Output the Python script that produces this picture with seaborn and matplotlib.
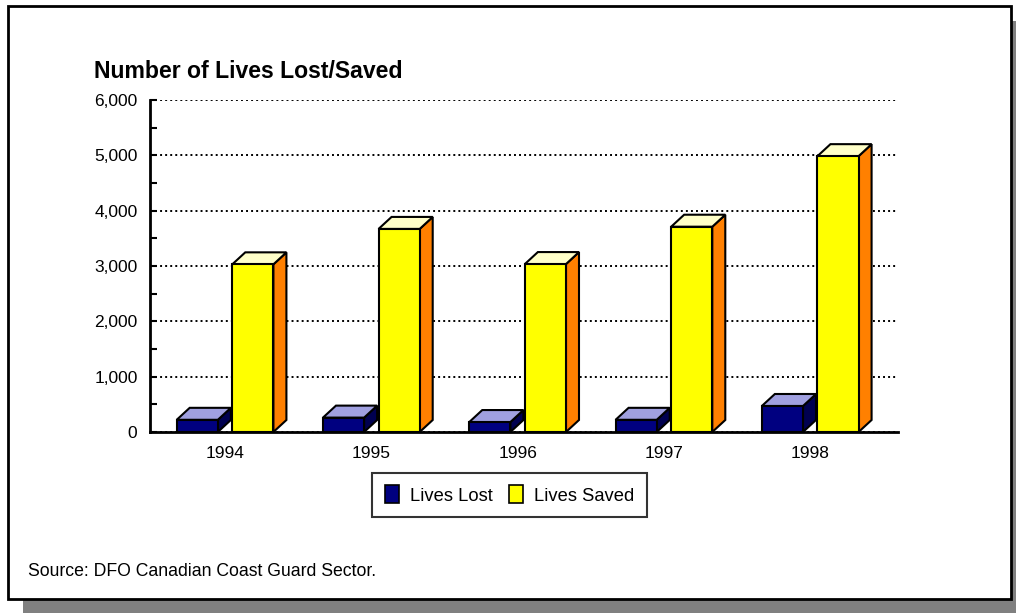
import numpy as np
import pandas as pd
import matplotlib
matplotlib.use("Agg")
import matplotlib.pyplot as plt
from matplotlib.patches import Polygon, Rectangle, Patch
from matplotlib.ticker import FuncFormatter, MultipleLocator
import seaborn as sns

# ---------------- data ----------------
years = ["1994", "1995", "1996", "1997", "1998"]
lives_lost = [220, 260, 180, 220, 470]
lives_saved = [3030, 3670, 3035, 3710, 4985]
series_names = ["Lives Lost", "Lives Saved"]
y_ticks = [0, 1000, 2000, 3000, 4000, 5000, 6000]
title_text = "Number of Lives Lost/Saved"
source_text = "Source: DFO Canadian Coast Guard Sector."

df = pd.DataFrame({
    "Year": years * 2,
    "Value": lives_lost + lives_saved,
    "Series": [series_names[0]] * len(years) + [series_names[1]] * len(years),
})

front_colors = ["#000080", "#FFFF00"]
top_colors = ["#A0A0E0", "#FFFFC8"]
side_colors = ["#000050", "#FF8000"]

sns.set_theme(style="white")
plt.rcParams["font.family"] = ["Liberation Sans", "DejaVu Sans"]

W, H = 1016, 613
fig = plt.figure(figsize=(W / 100, H / 100), dpi=100)
fig.patch.set_facecolor("white")


def fx(px):
    return px / W


def fy(py):
    return 1 - py / H


# shadow + frame
fig.patches.append(Rectangle((fx(23), fy(613)), fx(1016) - fx(23), fy(21) - fy(613),
                             transform=fig.transFigure, facecolor="#808080",
                             edgecolor="none", zorder=-3))
fig.patches.append(Rectangle((fx(8), fy(599)), fx(1011) - fx(8), fy(6) - fy(599),
                             transform=fig.transFigure, facecolor="white",
                             edgecolor="black", linewidth=2, zorder=-2))

ax_l, ax_r, ax_t, ax_b = 150, 898, 100, 432
ax = fig.add_axes([fx(ax_l), fy(ax_b), fx(ax_r) - fx(ax_l), fy(ax_t) - fy(ax_b)])
ax.patch.set_alpha(0)

sns.barplot(data=df, x="Year", y="Value", hue="Series", palette=front_colors,
            saturation=1, width=0.76, gap=0.26, edgecolor="black", linewidth=1.5,
            legend=False, ax=ax, zorder=3)

xlim = (-0.513, 4.60)
ax.set_xlim(*xlim)
ax.set_ylim(0, 6000)

# 3D depth in data units
dx = 13 * (xlim[1] - xlim[0]) / (ax_r - ax_l)
dy = 12 * 6000 / (ax_b - ax_t)

for ci, cont in enumerate(ax.containers):
    for bar in cont:
        x0 = bar.get_x()
        x1 = x0 + bar.get_width()
        h = bar.get_height()
        side = Polygon([(x1, 0), (x1 + dx, dy), (x1 + dx, h + dy), (x1, h)],
                       closed=True, facecolor=side_colors[ci], edgecolor="black",
                       linewidth=1.5, zorder=2.9, clip_on=False, joinstyle="miter")
        top = Polygon([(x0, h), (x0 + dx, h + dy), (x1 + dx, h + dy), (x1, h)],
                      closed=True, facecolor=top_colors[ci], edgecolor="black",
                      linewidth=1.5, zorder=2.9, clip_on=False, joinstyle="miter")
        ax.add_patch(side)
        ax.add_patch(top)

# axes styling
for s in ["top", "right"]:
    ax.spines[s].set_visible(False)
for s in ["left", "bottom"]:
    ax.spines[s].set_color("black")
    ax.spines[s].set_linewidth(2)
ax.spines["bottom"].set_zorder(4)

ax.set_yticks(y_ticks)
ax.yaxis.set_minor_locator(MultipleLocator(500))
ax.yaxis.set_major_formatter(FuncFormatter(lambda v, p: f"{int(v):,}"))
ax.tick_params(axis="y", which="both", direction="in", length=5, width=1.5,
               color="black", labelsize=12.5, pad=9, left=True, labelcolor="black")
ax.tick_params(axis="x", length=0, labelsize=12.5, pad=10, labelcolor="black")
ax.set_xlabel("")
ax.set_ylabel("")

ax.set_axisbelow(True)
ax.yaxis.grid(True, which="major", linestyle=(0, (1, 1.6)), color="black", linewidth=1.4)
ax.xaxis.grid(False)

# title and source
fig.text(fx(94), fy(71), title_text, ha="left", va="center", fontsize=16.6,
         fontweight="bold", color="black")
fig.text(fx(28), fy(572), source_text, ha="left", va="center", fontsize=12.7,
         color="black")

# legend
handles = [Patch(facecolor=c, edgecolor="black", linewidth=1.2) for c in front_colors]
leg = fig.legend(handles, series_names, loc="center",
                 bbox_to_anchor=(fx(509.5), fy(495)), ncol=2, fontsize=13.2,
                 frameon=True, fancybox=False, shadow=False, handlelength=0.75,
                 handleheight=1.1, handletextpad=0.6, columnspacing=0.9,
                 borderpad=0.7, borderaxespad=0)
leg.get_frame().set_edgecolor("black")
leg.get_frame().set_linewidth(1.5)
for t in leg.get_texts():
    t.set_color("black")

fig.savefig("out.png", dpi=100, facecolor="white")
